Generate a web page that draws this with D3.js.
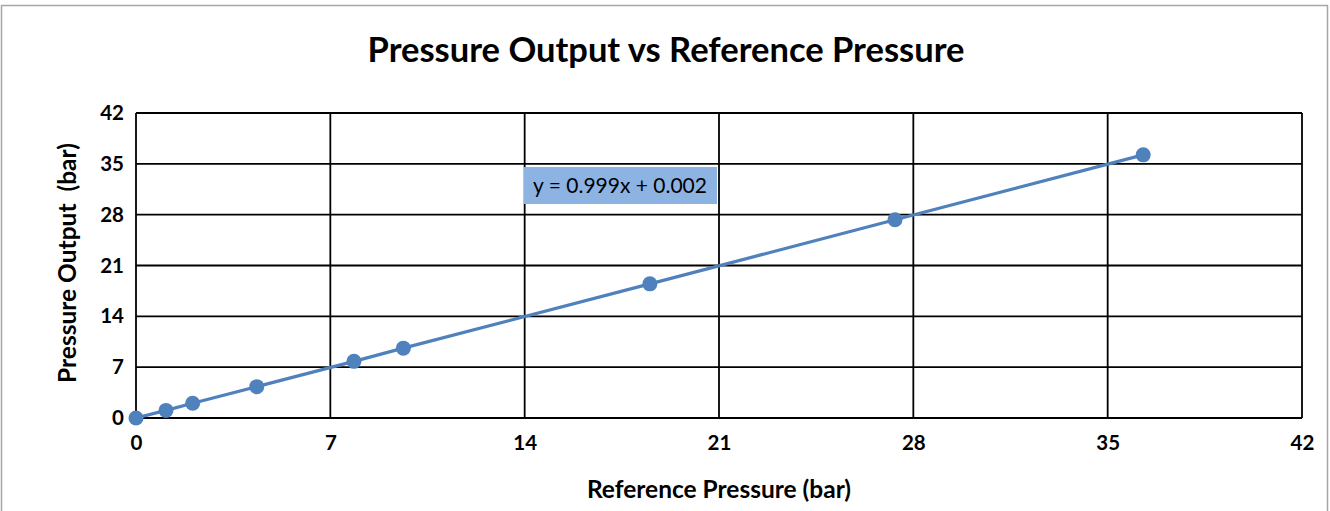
<!DOCTYPE html>
<html><head><meta charset="utf-8">
<script src="https://cdn.jsdelivr.net/npm/d3@7"></script>
<style>body{margin:0;background:#fff;} text{font-family:Lato,"Open Sans",sans-serif;}</style>
</head><body>
<svg id="c" width="1330" height="511"></svg>
<script>
const refPressure = [0, 1.08, 2.04, 4.35, 7.85, 9.63, 18.51, 27.34, 36.28];
const outputPressure = [0, 1.05, 2.03, 4.32, 7.8, 9.62, 18.47, 27.3, 36.24];
const tickValues = [0, 7, 14, 21, 28, 35, 42];
const title = "Pressure Output vs Reference Pressure";
const xTitle = "Reference Pressure (bar)";
const yTitle = "Pressure Output  (bar)";
const equation = "y = 0.999x + 0.002";

const svg = d3.select("#c");
svg.append("rect").attr("x",1.5).attr("y",5.5).attr("width",1326).attr("height",520)
  .attr("fill","#fff").attr("stroke","#a6a6a6").attr("stroke-width",1.5);

const L=136, R=1302, T=113, B=418;
const x = d3.scaleLinear().domain([0,42]).range([L,R]);
const y = d3.scaleLinear().domain([0,42]).range([B,T]);

svg.append("text").attr("x",666).attr("y",62).attr("text-anchor","middle")
  .attr("font-size",34.5).attr("font-weight","bold").text(title);

// grid
const g = svg.append("g");
g.selectAll(".gx").data(tickValues).join("line")
  .attr("x1",d=>x(d)).attr("x2",d=>x(d)).attr("y1",T).attr("y2",B)
  .attr("stroke","#000").attr("stroke-width",1.8);
g.selectAll(".gy").data(tickValues).join("line")
  .attr("y1",d=>y(d)).attr("y2",d=>y(d)).attr("x1",L).attr("x2",R)
  .attr("stroke","#000").attr("stroke-width",1.8);

const xa = svg.append("g").attr("transform",`translate(0,${B})`)
  .call(d3.axisBottom(x).tickValues(tickValues).tickSize(0).tickPadding(17));
xa.select(".domain").remove();
xa.selectAll("text").attr("font-size",20.5).attr("font-weight","bold").attr("fill","#000").style("font-family","Lato");
const ya = svg.append("g").attr("transform",`translate(${L},0)`)
  .call(d3.axisLeft(y).tickValues(tickValues).tickSize(0).tickPadding(12));
ya.select(".domain").remove();
ya.selectAll("text").attr("font-size",20.5).attr("font-weight","bold").attr("fill","#000").style("font-family","Lato");

svg.append("text").attr("x",719).attr("y",498).attr("text-anchor","middle")
  .attr("font-size",24.5).attr("font-weight","bold").text(xTitle);
svg.append("text").attr("transform","translate(76,263) rotate(-90)").attr("text-anchor","middle")
  .attr("font-size",24.5).attr("font-weight","bold").style("white-space","pre").text(yTitle);

const data = refPressure.map((v,i)=>[v,outputPressure[i]]);
svg.append("path").datum(data).attr("fill","none").attr("stroke","#4f81bd").attr("stroke-width",3.2)
  .attr("d",d3.line().x(d=>x(d[0])).y(d=>y(d[1])));
svg.selectAll(".pt").data(data).join("circle").attr("cx",d=>x(d[0])).attr("cy",d=>y(d[1]))
  .attr("r",7.5).attr("fill","#4f81bd");

svg.append("rect").attr("x",524).attr("y",167).attr("width",193).attr("height",37).attr("fill","#8db3e2");
svg.append("text").attr("x",620).attr("y",193).attr("text-anchor","middle").attr("font-size",21)
  .attr("fill","#000").text(equation);
</script>
</body></html>
